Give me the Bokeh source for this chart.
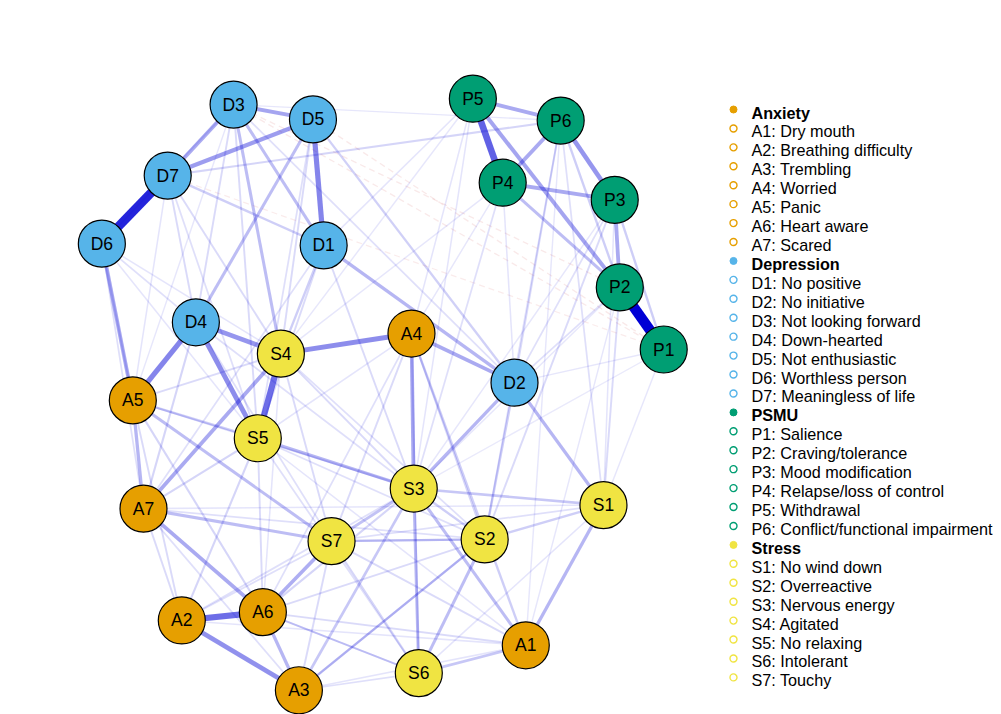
from bokeh.plotting import figure
from bokeh.layouts import row
from bokeh.models import ColumnDataSource, Range1d
from bokeh.core.properties import value
from bokeh.embed import file_html
from bokeh.resources import INLINE

# ---- node layout (spring layout coordinates) ----
node_ids = ["A1", "A2", "A3", "A4", "A5", "A6", "A7",
            "D1", "D2", "D3", "D4", "D5", "D6", "D7",
            "P1", "P2", "P3", "P4", "P5", "P6",
            "S1", "S2", "S3", "S4", "S5", "S6", "S7"]
node_x = [0.755, 0.144, 0.352, 0.552, 0.057, 0.288, 0.076,
          0.396, 0.735, 0.236, 0.169, 0.377, 0.002, 0.119,
          1.000, 0.922, 0.913, 0.714, 0.661, 0.817,
          0.893, 0.682, 0.556, 0.320, 0.279, 0.565, 0.410]
node_y = [0.076, 0.118, 0.000, 0.603, 0.490, 0.132, 0.307,
          0.752, 0.520, 0.990, 0.622, 0.965, 0.755, 0.870,
          0.576, 0.681, 0.829, 0.858, 1.000, 0.963,
          0.313, 0.255, 0.341, 0.569, 0.426, 0.029, 0.252]
node_group = ["Anxiety"] * 7 + ["Depression"] * 7 + ["PSMU"] * 6 + ["Stress"] * 7

group_names = ["Anxiety", "Depression", "PSMU", "Stress"]
group_colors = ["#E69F00", "#56B4E9", "#009E73", "#F0E442"]

anxiety_items = ["Dry mouth", "Breathing difficulty", "Trembling", "Worried",
                 "Panic", "Heart aware", "Scared"]
depression_items = ["No positive", "No initiative", "Not looking forward",
                    "Down-hearted", "Not enthusiastic", "Worthless person",
                    "Meaningless of life"]
psmu_items = ["Salience", "Craving/tolerance", "Mood modification",
              "Relapse/loss of control", "Withdrawal",
              "Conflict/functional impairment"]
stress_items = ["No wind down", "Overreactive", "Nervous energy", "Agitated",
                "No relaxing", "Intolerant", "Touchy"]

# ---- partial correlation edges (from, to, weight) ----
edge_from = [
    "P1", "D6", "P4", "S4", "A2", "D1", "A5", "D4", "A4", "D4", "A2", "P3",
    "D3", "D5", "D3", "P5", "P4", "P3", "P2", "P2", "P2", "P2", "P1",
    "A5", "A5", "A7", "A6", "A6", "A3", "A4", "A4", "D1", "D2", "D2", "A1",
    "S3", "A1", "S3", "A5", "A7", "S3", "S2", "D2", "S1", "S1", "A1",
    "D3", "D1", "D4", "D1", "D1", "A3", "A3", "A6", "S2", "A6", "A2", "A5",
    "A4", "A4", "D5", "D6",
    "D3", "D3", "D3", "D3", "D3", "D5", "D5", "D7", "D7", "D7", "D7", "D7",
    "D6", "D6", "D6", "D6", "D1", "D1", "D1", "D4", "D4", "D4",
    "S4", "S4", "S4", "S4", "S4", "S5", "S5", "S5", "S5", "S5",
    "A5", "A5", "A5", "A7", "A7", "A7", "A7", "A4", "A4", "A4", "A4",
    "S3", "S3", "S7", "S7", "S7", "S7", "S7", "S7", "S2", "S2",
    "S6", "S6", "A1", "A1", "A1", "S1",
    "P5", "P5", "P5", "P5", "P4", "P4", "P4", "P4", "P6", "P6", "P6", "P6",
    "P6", "P3", "P3", "P3", "P3", "P2", "P2", "P2", "P2", "P1", "P1", "P1",
    "D3", "D3", "D5", "D7",
]
edge_to = [
    "P2", "D7", "P5", "S5", "A6", "D5", "D4", "S5", "S4", "S4", "A3", "P6",
    "D5", "D7", "D7", "P6", "P6", "P4", "P5", "P3", "P4", "P6", "P3",
    "D6", "A7", "S4", "A7", "S7", "A6", "S3", "D2", "D2", "S3", "S1", "S1",
    "S6", "S3", "S5", "S7", "S7", "S7", "S6", "S2", "S3", "S2", "S6",
    "S4", "D3", "D5", "D7", "S4", "S3", "S2", "S3", "S7", "S6", "S5", "S5",
    "A1", "S2", "D2", "A5",
    "D4", "D6", "A5", "S5", "D2", "S4", "S5", "S5", "S4", "D4", "A5", "P6",
    "D4", "S4", "A7", "S5", "S5", "S3", "A7", "A7", "S3", "S7",
    "S3", "S7", "A5", "S2", "A6", "A7", "A6", "S6", "S2", "A1",
    "A2", "A6", "S3", "A2", "A3", "S2", "S1", "S7", "S6", "A6", "S5",
    "S2", "A2", "A1", "S6", "A3", "A2", "S1", "S2", "A6", "A3",
    "A3", "A6", "A6", "A3", "A2", "S6",
    "D1", "A4", "S4", "S3", "S4", "S3", "D2", "A4", "S2", "D2", "S1", "D3",
    "A1", "S2", "D2", "S1", "S3", "S1", "D2", "A1", "S3", "S1", "D2", "S3",
    "P2", "P1", "P1", "P1",
]
edge_weight = [
    1.00, 0.85, 0.60, 0.55, 0.55, 0.45, 0.45, 0.42, 0.42, 0.38, 0.40, 0.38,
    0.32, 0.35, 0.30, 0.30, 0.30, 0.30, 0.32, 0.30, 0.22, 0.15, 0.15,
    0.30, 0.25, 0.30, 0.30, 0.28, 0.25, 0.30, 0.30, 0.25, 0.25, 0.25, 0.25,
    0.22, 0.22, 0.25, 0.22, 0.22, 0.20, 0.22, 0.15, 0.18, 0.15, 0.18,
    0.22, 0.22, 0.22, 0.15, 0.15, 0.18, 0.15, 0.12, 0.12, 0.10, 0.12, 0.15,
    0.15, 0.12, 0.14, 0.10,
    0.10, 0.06, 0.05, 0.10, 0.08, 0.10, 0.08, 0.08, 0.10, 0.10, 0.06, 0.12,
    0.08, 0.06, 0.08, 0.06, 0.10, 0.10, 0.08, 0.12, 0.08, 0.08,
    0.10, 0.10, 0.10, 0.08, 0.06, 0.12, 0.10, 0.08, 0.08, 0.06,
    0.10, 0.12, 0.10, 0.10, 0.08, 0.08, 0.06, 0.10, 0.10, 0.08, 0.06,
    0.15, 0.08, 0.10, 0.12, 0.10, 0.08, 0.08, 0.12, 0.10, 0.12,
    0.08, 0.10, 0.10, 0.06, 0.06, 0.06,
    0.06, 0.06, 0.05, 0.06, 0.05, 0.08, 0.06, 0.05, 0.08, 0.10, 0.08, 0.05,
    0.05, 0.10, 0.08, 0.06, 0.05, 0.10, 0.08, 0.05, 0.05, 0.05, 0.05, 0.04,
    -0.04, -0.04, -0.04, -0.03,
]

POS_COL = (0, 0, 213)
NEG_COL = (191, 0, 0)

pos = {n: (x, y) for n, x, y in zip(node_ids, node_x, node_y)}
group_color = dict(zip(group_names, group_colors))


def edge_source(sign):
    rows = [(a, b, w) for a, b, w in zip(edge_from, edge_to, edge_weight)
            if (w > 0) == (sign > 0)]
    rows.sort(key=lambda r: abs(r[2]))
    d = dict(x0=[], y0=[], x1=[], y1=[], w=[], a=[])
    for a, b, w in rows:
        d["x0"].append(pos[a][0]); d["y0"].append(pos[a][1])
        d["x1"].append(pos[b][0]); d["y1"].append(pos[b][1])
        d["w"].append(1.0 + 9.3 * abs(w))
        d["a"].append(min(1.0, 0.05 + 0.95 * abs(w)))
    return ColumnDataSource(d)


def hexcol(c):
    return "#%02x%02x%02x" % c


# ---- network panel ----
net = figure(width=715, height=714, output_backend="svg", toolbar_location=None,
             x_range=Range1d(-0.178, 1.092), y_range=Range1d(-0.041, 1.166),
             x_axis_type=None, y_axis_type=None, min_border=0,
             outline_line_color=None, background_fill_color="white",
             border_fill_color="white")
net.grid.visible = False

net.segment("x0", "y0", "x1", "y1", source=edge_source(-1),
            line_color=hexcol(NEG_COL), line_width="w", line_alpha="a",
            line_dash="6 4")
net.segment("x0", "y0", "x1", "y1", source=edge_source(1),
            line_color=hexcol(POS_COL), line_width="w", line_alpha="a")

nodes = ColumnDataSource(dict(x=node_x, y=node_y, name=node_ids,
                              color=[group_color[g] for g in node_group]))
net.scatter("x", "y", source=nodes, size=47, fill_color="color",
            line_color="black", line_width=1.2)
net.text("x", "y", text="name", source=nodes, text_align="center",
         text_baseline="middle", text_font=value("Liberation Sans"),
         text_font_size=value("17.5px"), text_color="black")

# ---- legend panel ----
leg = figure(width=286, height=714, output_backend="svg", toolbar_location=None,
             x_range=Range1d(0, 286), y_range=Range1d(714, 0),
             x_axis_type=None, y_axis_type=None, min_border=0,
             outline_line_color=None, background_fill_color="white",
             border_fill_color="white")
leg.grid.visible = False

group_items = [anxiety_items, depression_items, psmu_items, stress_items]
prefixes = ["A", "D", "P", "S"]
hy, hc, htxt = [], [], []
iy, ic, itxt = [], [], []
row_i = 0
TOP, STEP = 112.0, 18.93
for gname, gcol, items, pre in zip(group_names, group_colors, group_items, prefixes):
    hy.append(TOP + row_i * STEP); hc.append(gcol); htxt.append(gname)
    row_i += 1
    for k, lab in enumerate(items):
        iy.append(TOP + row_i * STEP); ic.append(gcol)
        itxt.append(f"{pre}{k + 1}: {lab}")
        row_i += 1

hsrc = ColumnDataSource(dict(x=[18.0] * len(hy), y=hy, c=hc, t=htxt,
                             my=[v - 3 for v in hy], tx=[36.0] * len(hy)))
isrc = ColumnDataSource(dict(x=[18.0] * len(iy), y=iy, c=ic, t=itxt,
                             my=[v - 3 for v in iy], tx=[36.0] * len(iy)))

leg.scatter("x", "my", source=hsrc, size=7, fill_color="c", line_color="c")
leg.scatter("x", "my", source=isrc, size=7, fill_color=None, line_color="c",
            line_width=1.4)
leg.text("tx", "y", text="t", source=hsrc, text_baseline="middle",
         text_font=value("Liberation Sans"), text_font_style="bold",
         text_font_size=value("16.2px"), text_color="black")
leg.text("tx", "y", text="t", source=isrc, text_baseline="middle",
         text_font=value("Liberation Sans"),
         text_font_size=value("16.2px"), text_color="black")

layout = row(net, leg)
open("out.html", "w").write(file_html(layout, INLINE))
